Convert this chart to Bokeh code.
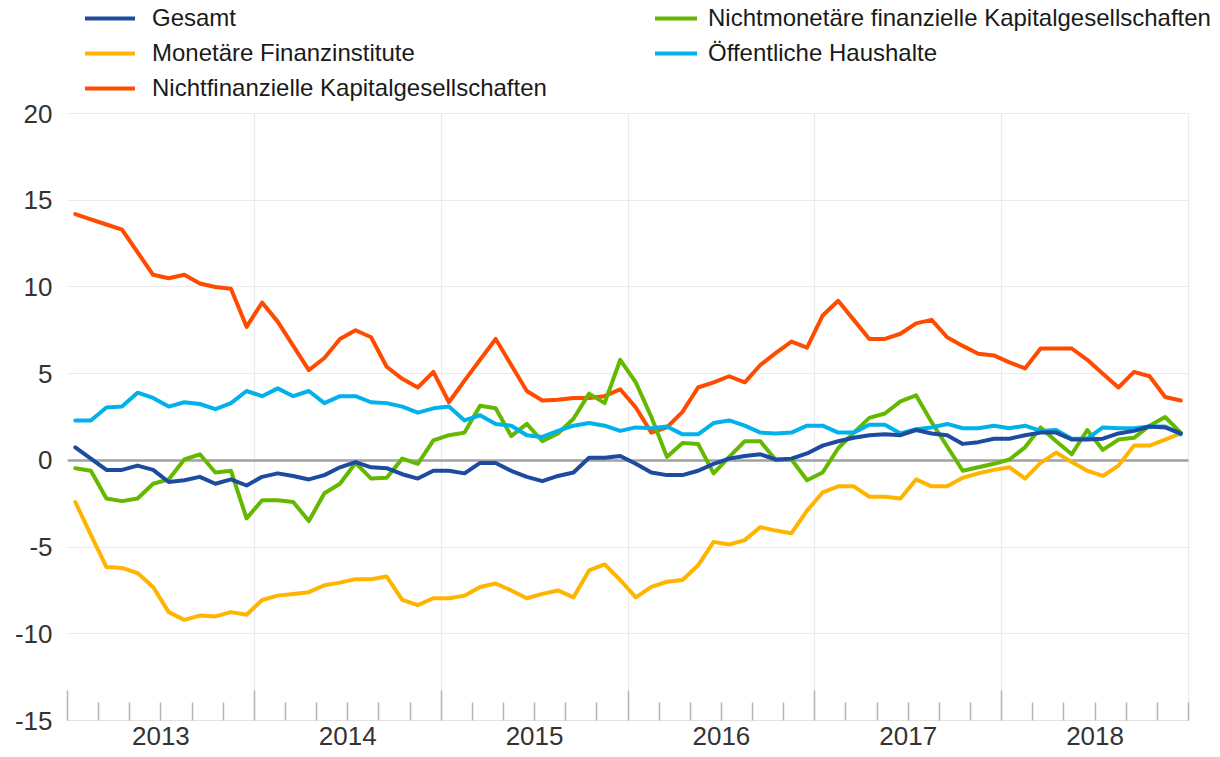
from bokeh.plotting import figure
from bokeh.models import (Range1d, FixedTicker, LinearAxis, Legend, LegendItem, Grid,
                          CustomLabelingPolicy)
from bokeh.embed import file_html
from bokeh.resources import INLINE

# ---------------- data (annual growth rates, %, monthly Jan 2013 - Dec 2018) ----------------
years = [2013, 2014, 2015, 2016, 2017, 2018]
y_ticks = [-15, -10, -5, 0, 5, 10, 15, 20]

labels = ["Gesamt", "Monetäre Finanzinstitute", "Nichtfinanzielle Kapitalgesellschaften",
          "Nichtmonetäre finanzielle Kapitalgesellschaften", "Öffentliche Haushalte"]

gesamt = [0.75, 0.1, -0.55, -0.55, -0.3, -0.55, -1.25, -1.15, -0.95, -1.35, -1.1, -1.45,
          -0.95, -0.75, -0.9, -1.1, -0.85, -0.4, -0.1, -0.4, -0.45, -0.8, -1.05, -0.6,
          -0.6, -0.75, -0.15, -0.15, -0.6, -0.95, -1.2, -0.9, -0.7, 0.15, 0.15, 0.25,
          -0.2, -0.7, -0.85, -0.85, -0.6, -0.2, 0.1, 0.25, 0.35, 0.05, 0.1, 0.4,
          0.85, 1.1, 1.3, 1.45, 1.5, 1.45, 1.75, 1.55, 1.45, 0.95, 1.05, 1.25,
          1.25, 1.45, 1.6, 1.6, 1.2, 1.2, 1.25, 1.55, 1.7, 1.95, 1.9, 1.55]

mfi = [-2.4, -4.3, -6.15, -6.2, -6.5, -7.3, -8.75, -9.2, -8.95, -9.0, -8.75, -8.9,
       -8.05, -7.8, -7.7, -7.6, -7.2, -7.05, -6.85, -6.85, -6.7, -8.05, -8.35, -7.95,
       -7.95, -7.8, -7.3, -7.1, -7.5, -7.95, -7.7, -7.5, -7.9, -6.35, -6.0, -6.9,
       -7.9, -7.3, -7.0, -6.9, -6.05, -4.7, -4.85, -4.6, -3.85, -4.05, -4.2, -2.9,
       -1.85, -1.5, -1.5, -2.1, -2.1, -2.2, -1.1, -1.5, -1.5, -1.0, -0.75, -0.55,
       -0.4, -1.05, -0.15, 0.45, -0.1, -0.6, -0.9, -0.3, 0.85, 0.85, 1.2, 1.55]

nfc = [14.2, 13.9, 13.6, 13.3, 12.0, 10.7, 10.5, 10.7, 10.2, 10.0, 9.9, 7.7,
       9.1, 8.0, 6.6, 5.2, 5.9, 7.0, 7.5, 7.1, 5.4, 4.7, 4.2, 5.1,
       3.35, 4.6, 5.8, 7.0, 5.5, 4.0, 3.45, 3.5, 3.6, 3.6, 3.7, 4.1,
       3.05, 1.6, 1.9, 2.8, 4.2, 4.5, 4.85, 4.5, 5.5, 6.2, 6.85, 6.5,
       8.35, 9.2, 8.1, 7.0, 7.0, 7.3, 7.9, 8.1, 7.1, 6.6, 6.15, 6.05,
       5.65, 5.3, 6.45, 6.45, 6.45, 5.8, 5.0, 4.2, 5.1, 4.85, 3.65, 3.45]

ofi = [-0.45, -0.6, -2.2, -2.35, -2.2, -1.35, -1.1, 0.05, 0.35, -0.7, -0.6, -3.35,
       -2.3, -2.3, -2.4, -3.5, -1.9, -1.35, -0.15, -1.05, -1.0, 0.1, -0.2, 1.15,
       1.45, 1.6, 3.15, 3.0, 1.4, 2.1, 1.1, 1.55, 2.4, 3.85, 3.3, 5.8,
       4.5, 2.5, 0.2, 1.0, 0.95, -0.75, 0.2, 1.1, 1.1, 0.0, 0.05, -1.15,
       -0.7, 0.7, 1.6, 2.45, 2.7, 3.4, 3.75, 2.2, 0.8, -0.6, -0.4, -0.2,
       0.05, 0.75, 1.9, 1.1, 0.35, 1.75, 0.6, 1.2, 1.3, 2.0, 2.5, 1.6]

gov = [2.3, 2.3, 3.05, 3.1, 3.9, 3.6, 3.1, 3.35, 3.25, 2.95, 3.3, 4.0,
       3.7, 4.15, 3.7, 4.0, 3.3, 3.7, 3.7, 3.35, 3.3, 3.1, 2.75, 3.0,
       3.1, 2.3, 2.6, 2.1, 2.0, 1.45, 1.35, 1.7, 2.0, 2.15, 2.0, 1.7,
       1.9, 1.85, 1.95, 1.5, 1.5, 2.15, 2.3, 2.0, 1.6, 1.55, 1.6, 2.0,
       2.0, 1.6, 1.6, 2.05, 2.05, 1.55, 1.8, 1.9, 2.1, 1.85, 1.85, 2.0,
       1.85, 2.0, 1.7, 1.75, 1.25, 1.25, 1.9, 1.85, 1.85, 1.95, 1.95, 1.5]

colors = ["#1d4ba0", "#ffb400", "#ff4b00", "#65b800", "#00b1ea"]

# ---------------- layout (pixels) ----------------
W = 1220
FRAME_LEFT = 67
CHART_W = 1121          # width of the chart area (2013..2019)
FRAME_H = 720           # frame runs from the top of the canvas down to the -15 line
TOP_TICK_PX = 113       # where the top tick (20) sits
FONT = "Liberation Sans"

x = [years[0] + (i + 0.5) / 12 for i in range(len(gesamt))]
x_start, x_chart_end = years[0], years[-1] + 1
frame_w = W - FRAME_LEFT
x_end = x_start + (x_chart_end - x_start) * frame_w / CHART_W   # room on the right for legend text
px_per_unit = (FRAME_H - TOP_TICK_PX) / (y_ticks[-1] - y_ticks[0])
y_top = y_ticks[-1] + TOP_TICK_PX / px_per_unit                  # room above for the legend

p = figure(frame_width=frame_w, frame_height=FRAME_H,
           x_range=Range1d(x_start, x_end), y_range=Range1d(y_ticks[0], y_top),
           output_backend="svg", toolbar_location=None,
           min_border_left=FRAME_LEFT, min_border_right=0, min_border_top=0,
           min_border_bottom=36)
p.outline_line_color = None
p.background_fill_color = "white"
p.border_fill_color = "white"

# grids (only inside the chart area)
chart_x = (x_start, x_chart_end)
chart_y = (y_ticks[0], y_ticks[-1])
p.xgrid.ticker = FixedTicker(ticks=years + [x_chart_end])
p.xgrid.cross_bounds = chart_y
p.ygrid.ticker = FixedTicker(ticks=y_ticks)
p.ygrid.cross_bounds = chart_x
for g in (p.xgrid, p.ygrid):
    g.grid_line_color = "#ebebeb"
    g.grid_line_width = 1.2

# zero line
zero = Grid(dimension=1, ticker=FixedTicker(ticks=[0]), cross_bounds=chart_x,
            grid_line_color="#a0a0a0", grid_line_width=2.5)
p.add_layout(zero)

# x axis with tick marks only (year boundaries long, every two months short)
minor = [years[0] + k / 6 for k in range(1, 6 * len(years) + 1) if k % 6 != 0] + [x_chart_end]
xa = p.xaxis[0]
xa.ticker = FixedTicker(ticks=years, minor_ticks=minor)
xa.bounds = chart_x
xa.major_tick_in = 30
xa.major_tick_out = 0
xa.minor_tick_in = 18
xa.minor_tick_out = 0
xa.major_tick_line_color = "#b4b4b4"
xa.minor_tick_line_color = "#b4b4b4"
xa.major_tick_line_width = 1.5
xa.minor_tick_line_width = 1.5
xa.axis_line_color = "#e2e2e2"
xa.major_label_policy = CustomLabelingPolicy(code="return []")
xa.major_label_text_font_size = "0px"
xa.major_label_standoff = 0

# x axis with the year labels centred in each year
mid = [yr + 0.5 for yr in years]
xb = LinearAxis(ticker=FixedTicker(ticks=mid, minor_ticks=[]), bounds=chart_x,
                major_label_overrides={m: str(yr) for m, yr in zip(mid, years)})
xb.major_tick_in = 0
xb.major_tick_out = 0
xb.minor_tick_in = 0
xb.minor_tick_out = 0
xb.axis_line_color = None
xb.major_tick_line_color = None
xb.major_label_standoff = 6
xb.major_label_text_font = FONT
xb.major_label_text_font_size = "26px"
xb.major_label_text_color = "#333333"
p.add_layout(xb, "below")

# y axis
ya = p.yaxis[0]
ya.ticker = FixedTicker(ticks=y_ticks, minor_ticks=[])
ya.major_label_overrides = {t: str(t) for t in y_ticks}
ya.axis_line_color = None
ya.major_tick_line_color = None
ya.minor_tick_line_color = None
ya.major_tick_in = 0
ya.major_tick_out = 0
ya.major_label_standoff = 15
ya.major_label_text_font = FONT
ya.major_label_text_font_size = "26px"
ya.major_label_text_color = "#333333"

series = [gesamt, mfi, nfc, ofi, gov]
draw_order = [1, 2, 3, 4, 0]
renderers = {}
for k in draw_order:
    renderers[k] = p.line(x, series[k], line_color=colors[k], line_width=4,
                          line_join="round", line_cap="round")

# legends in the space above the chart
ITEM_H, SPACING, LEG_TOP = 28, 7, 4

def make_legend(idx, left, glyph_w, standoff):
    n = len(idx)
    leg_h = n * ITEM_H + (n - 1) * SPACING
    return Legend(items=[LegendItem(label=labels[k], renderers=[renderers[k]]) for k in idx],
                  location=(left, FRAME_H - LEG_TOP - leg_h),
                  orientation="vertical", padding=0, margin=0, spacing=SPACING,
                  label_height=ITEM_H, glyph_height=ITEM_H, glyph_width=glyph_w,
                  label_standoff=standoff, label_text_font=FONT, label_text_font_size="24px",
                  label_text_color="#1a1a1a", background_fill_alpha=0, border_line_color=None)

p.add_layout(make_legend([0, 1, 2], 18, 50, 17))
p.add_layout(make_legend([3, 4], 588, 42, 11))

open("out.html", "w").write(file_html(p, INLINE))
